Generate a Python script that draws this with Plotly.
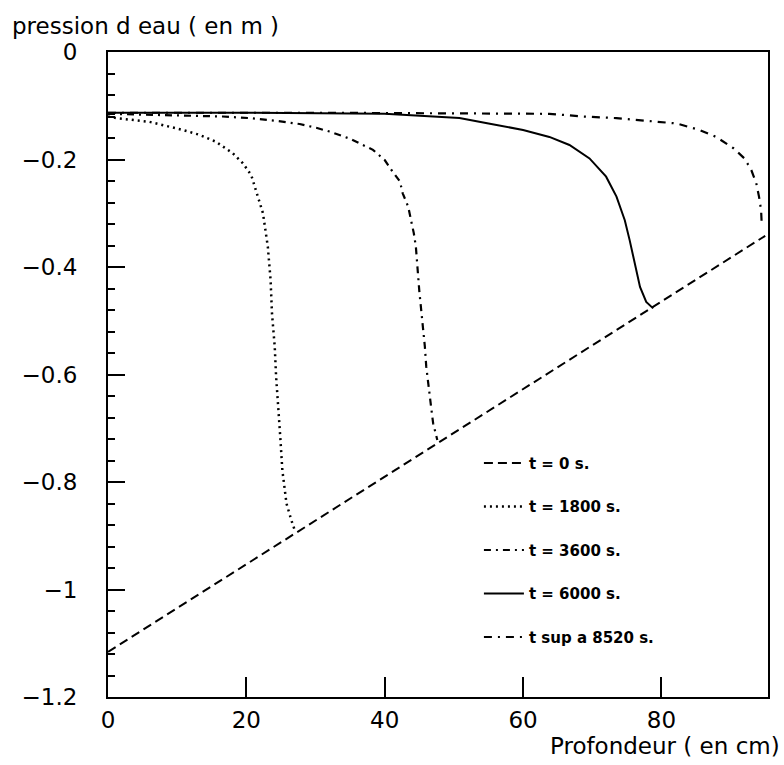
import plotly.graph_objects as go

# ---- data ----
x_t0 = [0, 95.0]
y_t0 = [-1.116, -0.342]

x_t1800 = [0, 1.2, 6.0, 10.8, 13.2, 15.6, 18.0, 19.5, 20.7, 21.4, 22.4, 23.1, 23.5,
           23.7, 24.1, 24.3, 24.6, 24.9, 25.2, 25.8, 26.5, 27.0]
y_t1800 = [-0.120, -0.123, -0.130, -0.145, -0.154, -0.167, -0.188, -0.207, -0.229,
           -0.257, -0.300, -0.362, -0.424, -0.486, -0.548, -0.604, -0.654, -0.716,
           -0.778, -0.840, -0.871, -0.890]

x_t3600 = [0, 8, 16.6, 20.5, 24.3, 27.7, 30.1, 32.0, 34.9, 38.3, 40.0, 41.0, 42.2,
           42.6, 43.4, 43.8, 44.2, 44.5, 44.7, 44.8, 45.0, 45.5, 45.8, 46.0, 46.4,
           46.7, 47.0, 47.6]
y_t3600 = [-0.115, -0.117, -0.120, -0.123, -0.128, -0.134, -0.141, -0.148, -0.161,
           -0.182, -0.201, -0.220, -0.241, -0.263, -0.288, -0.313, -0.337, -0.362,
           -0.387, -0.412, -0.445, -0.505, -0.548, -0.585, -0.623, -0.660, -0.691,
           -0.722]

x_t6000 = [0, 20, 40, 50.8, 55, 60, 63.8, 66.7, 69.6, 72.0, 73.5, 74.7, 75.4, 76.1,
           76.9, 77.8, 78.8]
y_t6000 = [-0.113, -0.113, -0.115, -0.123, -0.133, -0.145, -0.158, -0.173, -0.198,
           -0.232, -0.269, -0.313, -0.350, -0.393, -0.437, -0.465, -0.477]

x_t8520 = [0, 30, 63.8, 68.7, 73.5, 78.3, 82.2, 85.5, 87.9, 90.4, 92.0, 93.0, 93.7,
           94.1, 94.4, 94.5]
y_t8520 = [-0.113, -0.113, -0.115, -0.120, -0.123, -0.128, -0.133, -0.145, -0.158,
           -0.179, -0.198, -0.220, -0.244, -0.269, -0.294, -0.322]

labels = ["t = 0 s.", "t = 1800 s.", "t = 3600 s.", "t = 6000 s.", "t sup a 8520 s."]
x_ticks = [0, 20, 40, 60, 80]
y_ticks = [0, -0.2, -0.4, -0.6, -0.8, -1, -1.2]
y_ticktext = ["0", "\u22120.2", "\u22120.4", "\u22120.6", "\u22120.8", "\u22121", "\u22121.2"]

series = [
    (x_t0, y_t0, "9px,5px", 2),
    (x_t1800, y_t1800, "2px,4px", 2.5),
    (x_t3600, y_t3600, "7px,5px,2px,5px", 2.2),
    (x_t6000, y_t6000, "solid", 2),
    (x_t8520, y_t8520, "8px,6px,2px,6px", 2.2),
]

fig = go.Figure()
for i, (xs, ys, dash, w) in enumerate(series):
    fig.add_trace(go.Scatter(
        x=xs, y=ys, mode="lines", name=labels[i], legendgroup=str(i),
        line=dict(color="black", width=w, dash=dash),
    ))

font_family = "DejaVu Sans, sans-serif"

fig.update_layout(
    width=784, height=765,
    margin=dict(l=108, r=16, t=52, b=68),
    paper_bgcolor="white", plot_bgcolor="white",
    font=dict(family=font_family, color="black"),
    showlegend=True,
    legend=dict(
        x=0.562, y=0.388, xanchor="left", yanchor="top",
        bgcolor="rgba(0,0,0,0)", tracegroupgap=21,
        font=dict(size=15, color="black", family=font_family, weight="bold"),
        itemwidth=40,
    ),
    xaxis=dict(
        range=[0, 95.4], showgrid=False, zeroline=False,
        showline=True, linewidth=2, linecolor="black", mirror=True,
        tickmode="array", tickvals=x_ticks, ticktext=[str(v) for v in x_ticks],
        ticks="inside", ticklen=20, tickwidth=2, tickcolor="black",
        tickfont=dict(size=23, color="black"), ticklabelstandoff=1,
    ),
    yaxis=dict(
        range=[-1.2, 0], showgrid=False, zeroline=False,
        showline=True, linewidth=2, linecolor="black", mirror=True,
        tickmode="array", tickvals=y_ticks, ticktext=y_ticktext,
        ticks="inside", ticklen=17, tickwidth=2, tickcolor="black",
        tickfont=dict(size=23, color="black"), ticklabelstandoff=24,
        minor=dict(dtick=0.04, tick0=0, ticks="inside", ticklen=7,
                   tickwidth=2, tickcolor="black", showgrid=False),
    ),
    annotations=[
        dict(text="pression d eau ( en m )", xref="paper", yref="paper",
             x=-0.149, y=1.040, xanchor="left", yanchor="middle",
             showarrow=False, font=dict(size=23, color="black")),
        dict(text="Profondeur ( en cm)", xref="paper", yref="paper",
             x=1.021, y=-0.076, xanchor="right", yanchor="middle",
             showarrow=False, font=dict(size=23, color="black")),
    ],
)

fig.write_html("out.html")
